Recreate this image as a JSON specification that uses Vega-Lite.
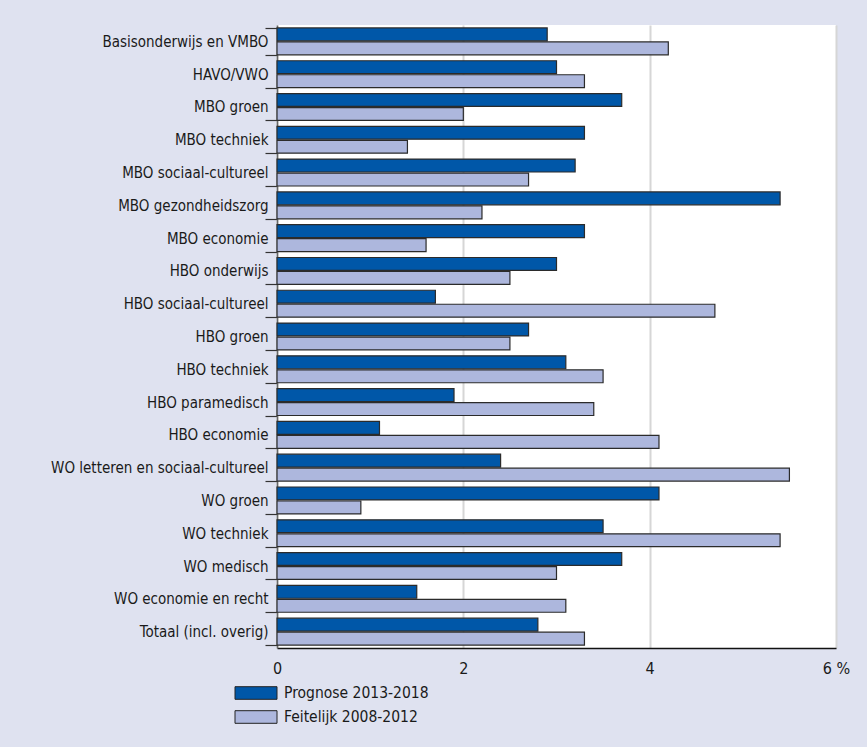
{
  "$schema": "https://vega.github.io/schema/vega-lite/v6.json",
  "width": 559,
  "height": 623,
  "autosize": {"type": "none"},
  "padding": {"left": 277, "top": 25, "right": 31, "bottom": 99},
  "background": "#dfe2f0",
  "config": {
    "view": {"fill": "white", "stroke": null},
    "font": "Liberation Sans Narrow, DejaVu Sans Condensed, sans-serif",
    "axis": {"labelFont": "Liberation Sans Narrow, DejaVu Sans Condensed, sans-serif"},
    "legend": {"labelFont": "Liberation Sans Narrow, DejaVu Sans Condensed, sans-serif"}
  },
  "data": {
    "values": [
      {"categorie": "Basisonderwijs en VMBO", "reeks": "Prognose 2013-2018", "waarde": 2.9},
      {"categorie": "Basisonderwijs en VMBO", "reeks": "Feitelijk 2008-2012", "waarde": 4.2},
      {"categorie": "HAVO/VWO", "reeks": "Prognose 2013-2018", "waarde": 3.0},
      {"categorie": "HAVO/VWO", "reeks": "Feitelijk 2008-2012", "waarde": 3.3},
      {"categorie": "MBO groen", "reeks": "Prognose 2013-2018", "waarde": 3.7},
      {"categorie": "MBO groen", "reeks": "Feitelijk 2008-2012", "waarde": 2.0},
      {"categorie": "MBO techniek", "reeks": "Prognose 2013-2018", "waarde": 3.3},
      {"categorie": "MBO techniek", "reeks": "Feitelijk 2008-2012", "waarde": 1.4},
      {"categorie": "MBO sociaal-cultureel", "reeks": "Prognose 2013-2018", "waarde": 3.2},
      {"categorie": "MBO sociaal-cultureel", "reeks": "Feitelijk 2008-2012", "waarde": 2.7},
      {"categorie": "MBO gezondheidszorg", "reeks": "Prognose 2013-2018", "waarde": 5.4},
      {"categorie": "MBO gezondheidszorg", "reeks": "Feitelijk 2008-2012", "waarde": 2.2},
      {"categorie": "MBO economie", "reeks": "Prognose 2013-2018", "waarde": 3.3},
      {"categorie": "MBO economie", "reeks": "Feitelijk 2008-2012", "waarde": 1.6},
      {"categorie": "HBO onderwijs", "reeks": "Prognose 2013-2018", "waarde": 3.0},
      {"categorie": "HBO onderwijs", "reeks": "Feitelijk 2008-2012", "waarde": 2.5},
      {"categorie": "HBO sociaal-cultureel", "reeks": "Prognose 2013-2018", "waarde": 1.7},
      {"categorie": "HBO sociaal-cultureel", "reeks": "Feitelijk 2008-2012", "waarde": 4.7},
      {"categorie": "HBO groen", "reeks": "Prognose 2013-2018", "waarde": 2.7},
      {"categorie": "HBO groen", "reeks": "Feitelijk 2008-2012", "waarde": 2.5},
      {"categorie": "HBO techniek", "reeks": "Prognose 2013-2018", "waarde": 3.1},
      {"categorie": "HBO techniek", "reeks": "Feitelijk 2008-2012", "waarde": 3.5},
      {"categorie": "HBO paramedisch", "reeks": "Prognose 2013-2018", "waarde": 1.9},
      {"categorie": "HBO paramedisch", "reeks": "Feitelijk 2008-2012", "waarde": 3.4},
      {"categorie": "HBO economie", "reeks": "Prognose 2013-2018", "waarde": 1.1},
      {"categorie": "HBO economie", "reeks": "Feitelijk 2008-2012", "waarde": 4.1},
      {"categorie": "WO letteren en sociaal-cultureel", "reeks": "Prognose 2013-2018", "waarde": 2.4},
      {"categorie": "WO letteren en sociaal-cultureel", "reeks": "Feitelijk 2008-2012", "waarde": 5.5},
      {"categorie": "WO groen", "reeks": "Prognose 2013-2018", "waarde": 4.1},
      {"categorie": "WO groen", "reeks": "Feitelijk 2008-2012", "waarde": 0.9},
      {"categorie": "WO techniek", "reeks": "Prognose 2013-2018", "waarde": 3.5},
      {"categorie": "WO techniek", "reeks": "Feitelijk 2008-2012", "waarde": 5.4},
      {"categorie": "WO medisch", "reeks": "Prognose 2013-2018", "waarde": 3.7},
      {"categorie": "WO medisch", "reeks": "Feitelijk 2008-2012", "waarde": 3.0},
      {"categorie": "WO economie en recht", "reeks": "Prognose 2013-2018", "waarde": 1.5},
      {"categorie": "WO economie en recht", "reeks": "Feitelijk 2008-2012", "waarde": 3.1},
      {"categorie": "Totaal (incl. overig)", "reeks": "Prognose 2013-2018", "waarde": 2.8},
      {"categorie": "Totaal (incl. overig)", "reeks": "Feitelijk 2008-2012", "waarde": 3.3}
    ]
  },
  "mark": {"type": "bar", "stroke": "#2b2b2b", "strokeWidth": 1.2},
  "encoding": {
    "y": {
      "field": "categorie",
      "type": "nominal",
      "sort": null,
      "scale": {"paddingInner": 0.18, "paddingOuter": 0.09},
      "axis": {
        "title": null,
        "domainColor": "#666666",
        "domainWidth": 1.5,
        "ticks": true,
        "tickBand": "extent",
        "tickSize": 12,
        "tickColor": "#333333",
        "tickWidth": 1.2,
        "labelPadding": -3,
        "labelFontSize": 15,
        "labelColor": "#1a1a1a",
        "labelLimit": 300
      }
    },
    "yOffset": {
      "field": "reeks",
      "type": "nominal",
      "scale": {"domain": ["Prognose 2013-2018", "Feitelijk 2008-2012"], "paddingInner": 0.08}
    },
    "x": {
      "field": "waarde",
      "type": "quantitative",
      "scale": {"domain": [0, 6], "nice": false},
      "axis": {
        "title": null,
        "values": [0, 2, 4, 6],
        "grid": true,
        "gridColor": "#d6d6d6",
        "gridWidth": 2,
        "ticks": false,
        "domainColor": "#111111",
        "domainWidth": 1.5,
        "labelFontSize": 16,
        "labelPadding": 12,
        "labelColor": "#1a1a1a",
        "labelFlush": false,
        "labelExpr": "datum.value == 6 ? '6 %' : datum.label"
      }
    },
    "color": {
      "field": "reeks",
      "type": "nominal",
      "scale": {"domain": ["Prognose 2013-2018", "Feitelijk 2008-2012"], "range": ["#0057a8", "#adb7dd"]},
      "legend": {
        "title": null,
        "orient": "none",
        "legendX": -32,
        "legendY": 657,
        "direction": "vertical",
        "symbolType": "M-2,-0.6H2V0.6H-2Z",
        "symbolSize": 441,
        "symbolStrokeColor": "#222222",
        "symbolStrokeWidth": 1,
        "symbolOpacity": 1,
        "labelFontSize": 15.5,
        "labelColor": "#1a1a1a",
        "labelOffset": 17,
        "rowPadding": 4
      }
    }
  }
}
